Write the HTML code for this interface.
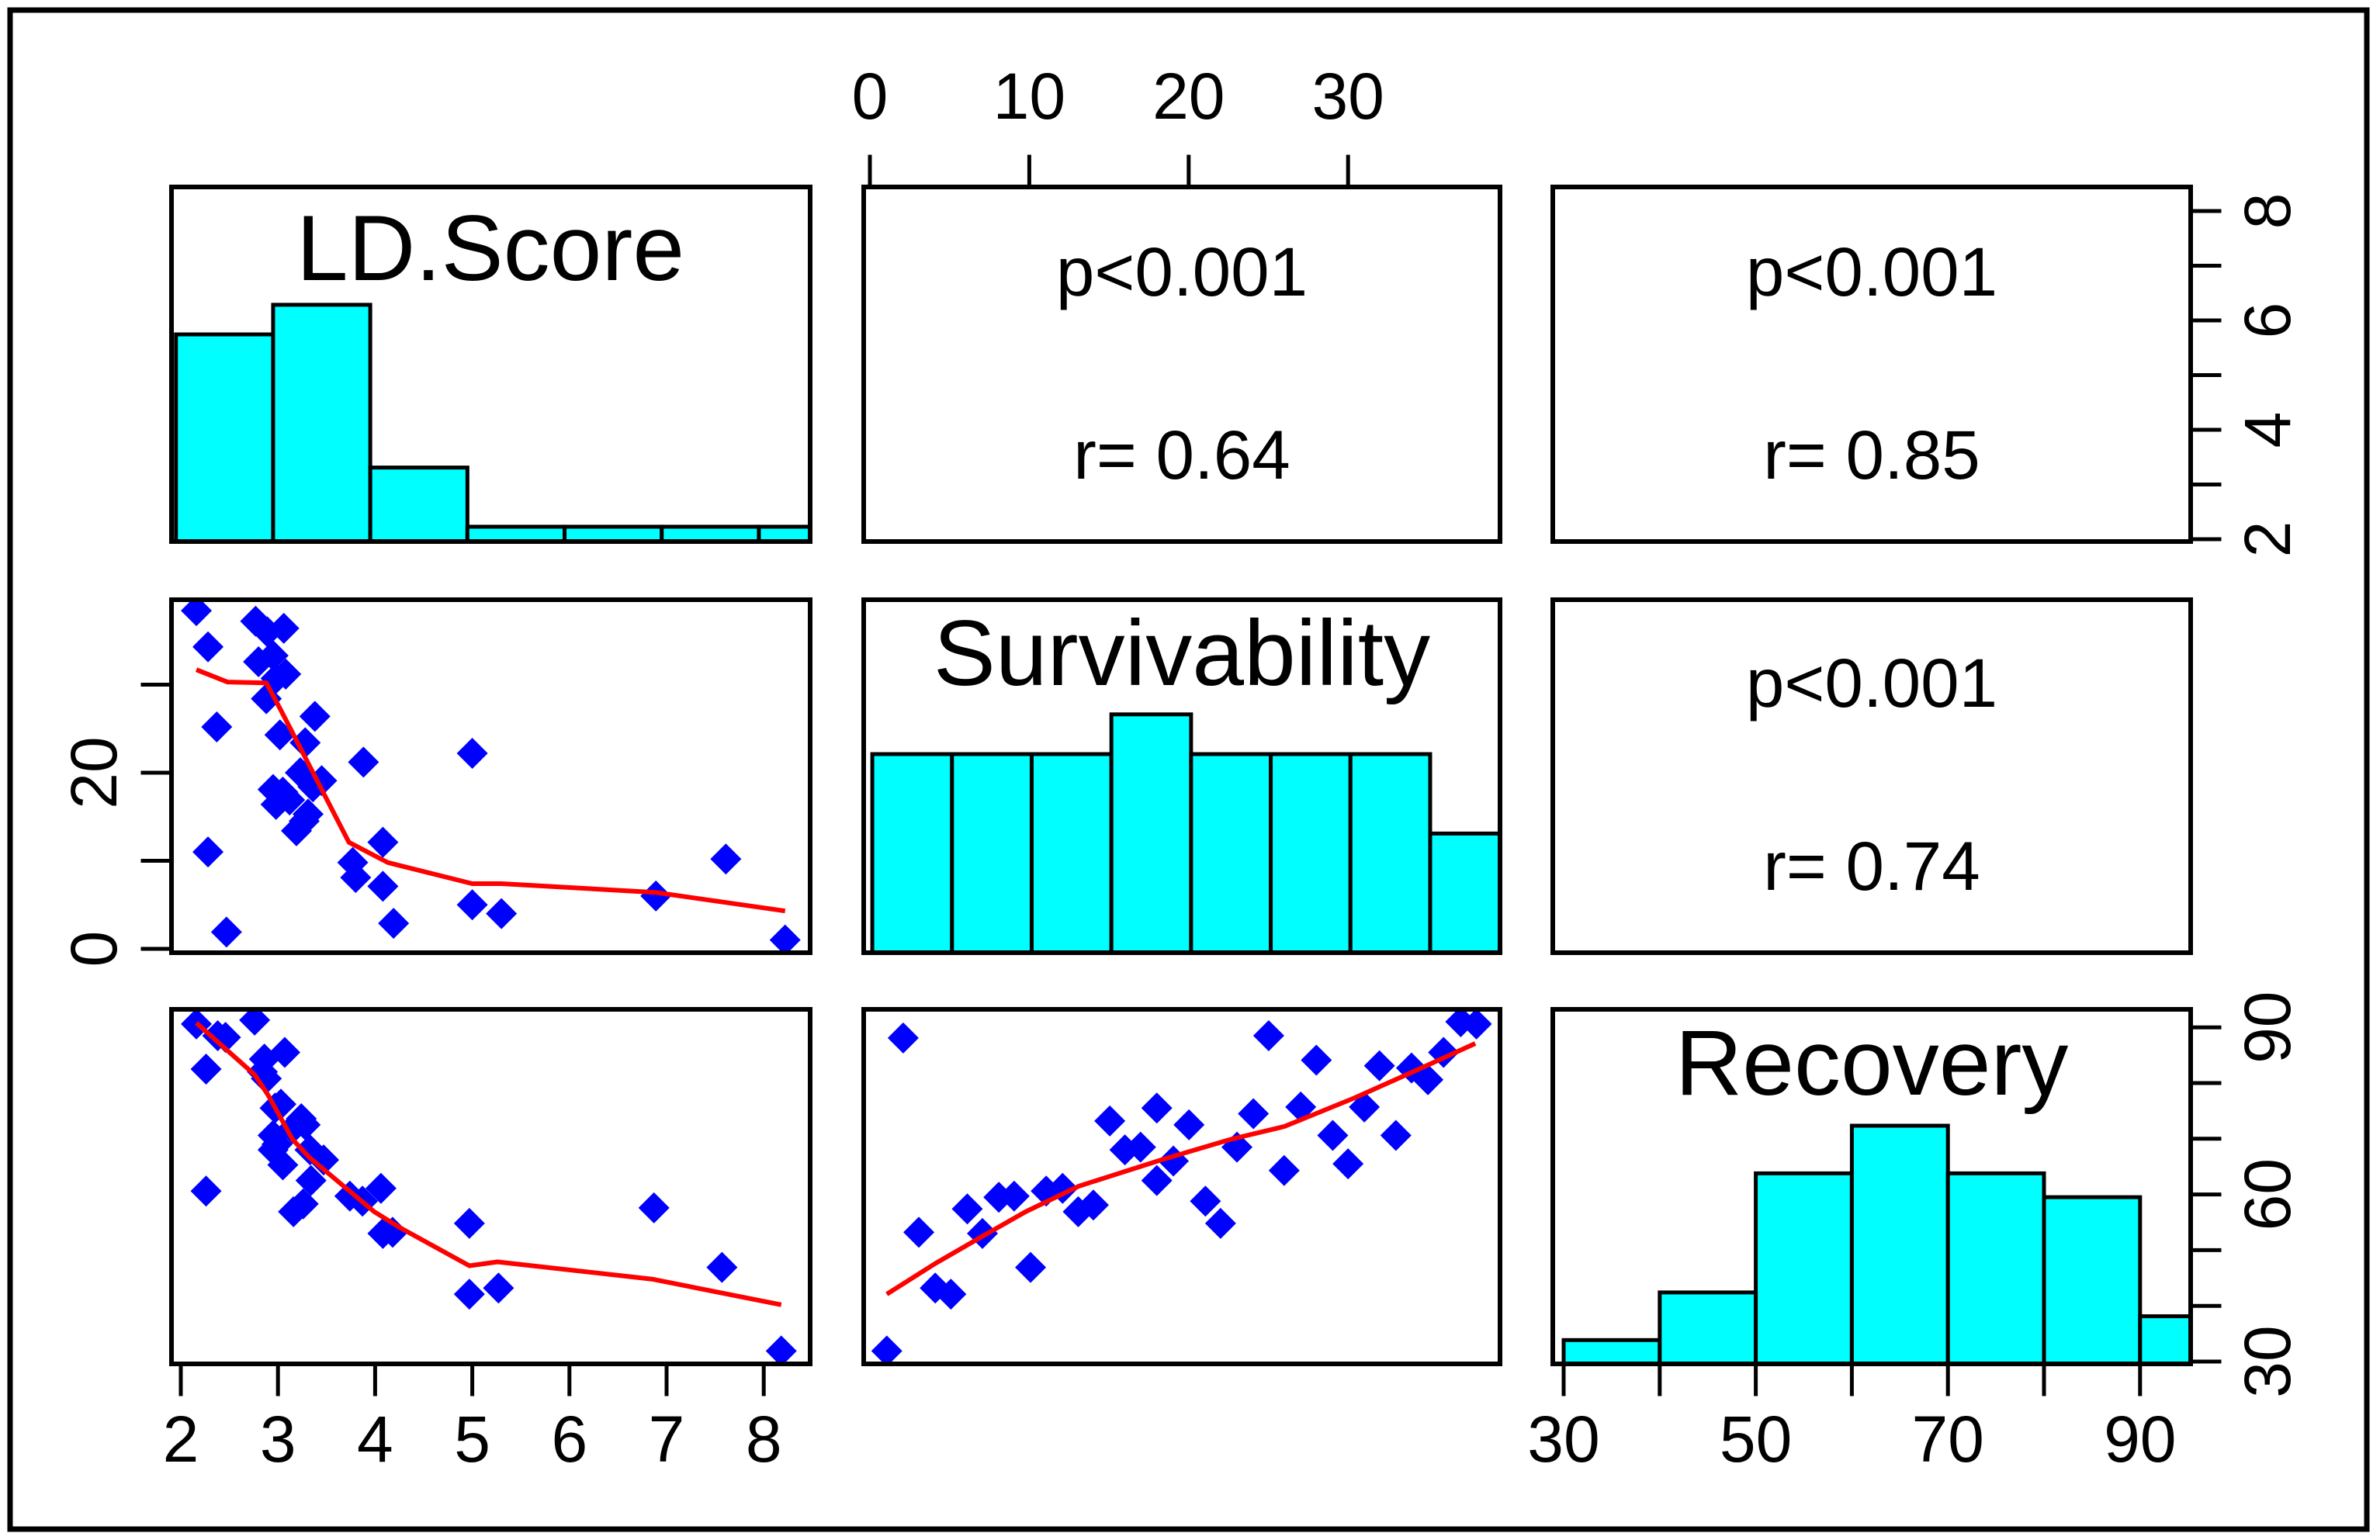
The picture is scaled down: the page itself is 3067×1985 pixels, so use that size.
<!DOCTYPE html>
<html><head><meta charset="utf-8">
<style>
html,body{margin:0;padding:0;background:#fff;}
svg{display:block;}
text{font-family:"Liberation Sans",Arial,sans-serif;fill:#000;}
</style></head>
<body>
<svg id="chart" width="3067" height="1985" viewBox="0 0 3067 1985" xmlns="http://www.w3.org/2000/svg">
<rect x="13" y="13" width="3037" height="1958" fill="#fff" stroke="#000" stroke-width="7"/>
<defs>
<clipPath id="c11"><rect x="221" y="241" width="823" height="457"/></clipPath>
<clipPath id="c22"><rect x="1113" y="773" width="820" height="455"/></clipPath>
<clipPath id="c33"><rect x="2001" y="1301" width="822" height="457"/></clipPath>
<clipPath id="c21"><rect x="221" y="773" width="823" height="455"/></clipPath>
<clipPath id="c31"><rect x="221" y="1301" width="823" height="457"/></clipPath>
<clipPath id="c32"><rect x="1113" y="1301" width="820" height="457"/></clipPath>
</defs>
<g id="marks"></g>
<g id="frames"></g>
</svg>
<script>
// ---- data ----
const ldBreaks = [1.95,2.95,3.95,4.95,5.95,6.95,7.95,8.95];
const ldCounts = [14,16,5,1,1,1,1];
const survBreaks = [0.15,5.15,10.15,15.15,20.15,25.15,30.15,35.15,40.15];
const survCounts = [5,5,5,6,5,5,5,3];
const recBreaks = [30,40,50,60,70,80,90,100];
const recCounts = [1,3,8,10,8,7,2];

const p21x = [2.16,2.28,2.37,2.28,2.47,2.77,2.89,3.06,2.8,2.95,2.98,3.08,2.88,3.02,2.95,3.05,2.98,3.12,3.19,3.27,3.31,3.23,3.28,3.38,3.36,3.45,3.88,3.77,3.8,4.08,4.08,4.19,5.0,5.0,5.3,6.89,7.61,8.22];
const p21y = [38.4,34.3,25.2,11,1.9,37.2,36,36.4,32.6,33.3,30.7,31.2,28.4,24.3,18.1,17.8,16.4,16.9,13.4,14.5,15.3,20,23.4,26.4,18.4,19.1,21.2,9.8,8.1,12.1,7.1,2.9,22.2,5,4,6,10.2,1];
const l21x = [2.16,2.48,2.88,3.03,3.73,4.13,5.0,5.3,6.89,8.22];
const l21y = [31.7,30.3,30.2,27.1,12.1,9.8,7.4,7.4,6.4,4.3];

const p31x = [2.16,2.38,2.46,2.76,2.26,2.26,3.07,2.86,2.84,2.88,3.03,2.97,3.24,3.28,3.15,2.95,2.99,3.05,2.95,3.33,3.47,3.34,3.16,3.26,3.74,3.87,4.06,4.08,4.18,4.97,4.97,5.27,6.87,7.57,8.18];
const p31y = [90.6,88.5,88.2,91.3,82.5,60.6,85.5,84.3,82,80.8,76.2,75.5,73.6,72.5,71.8,70.6,69,65.3,68,68,66.2,62.5,56.9,58.3,59.7,58.8,61.1,53,53.2,54.8,42.1,43.2,57.6,46.9,31.9];
const l31x = [2.16,2.76,2.90,3.15,3.32,3.99,4.25,4.97,5.26,6.85,8.18];
const l31y = [90.8,81.5,77.8,69.9,66.7,56.9,54.1,47.2,47.9,44.8,40.2];

const p32x = [1.06,2.09,3.07,4.1,5.08,6.11,7.06,8.09,9.05,10.08,11.06,12.09,13.07,14.02,15.05,16.0,16.98,18.0,18.0,19.04,20.02,21.05,22.0,23.03,24.06,25.02,25.99,27.03,28.01,29.04,30.0,31.02,31.97,33.0,33.98,35.01,35.99,37.07,38.05];
const p32y = [31.9,88.1,53.2,43.2,42.1,57.4,53,59.5,59.7,46.9,60.6,61.1,56.9,58.1,73.2,68,68.5,75.5,62.5,66,72.5,58.8,54.8,68.5,74.5,88.5,64.3,75.7,84.1,70.6,65.5,75.7,83.1,70.6,82.7,80.6,85.5,91,90.6];
const l32x = [1.06,4.1,7.19,9.77,13.12,18.27,22.65,26.0,30.38,33.98,37.98];
const l32y = [42.1,47.6,52.7,56.9,61.5,66.2,69.9,72.2,77.3,81.9,87.1];

const topTicks = [0,10,20,30];
const topLabels = ["0","10","20","30"];
const rightLdTicks = [2,3,4,5,6,7,8];
const rightLdLabels = ["2","4","6","8"];
const leftSurvTicks = [0,10,20,30];
const leftSurvLabels = ["0","20"];
const bottomLdTicks = [2,3,4,5,6,7,8];
const bottomLdLabels = ["2","3","4","5","6","7","8"];
const recTicks = [30,40,50,60,70,80,90];
const recLabelsX = ["30","50","70","90"];
const recLabelsY = ["30","60","90"];

// ---- scales ----
const ldX = v => 233 + (v-2)*125.2;
const ldY = v => 695 - (v-2)*70.5;
const survX = v => 1121 + v*20.54;
const survY = v => 1223 - v*11.35;
const recX = v => 2015 + (v-30)*12.38;
const recY = v => 1755 - (v-30)*7.18;

const NS = "http://www.w3.org/2000/svg";
const marks = document.getElementById('marks');
const frames = document.getElementById('frames');
function mk(tag, attrs, parent){
  const e = document.createElementNS(NS, tag);
  for (const k in attrs) e.setAttribute(k, attrs[k]);
  (parent||marks).appendChild(e);
  return e;
}
function group(clip, name){
  const g = mk('g', {'clip-path':'url(#'+clip+')'});
  
  
  return g;
}

function hist(breaks, counts, xf, base, perCount, clip, name){
  const g = group(clip, name);
  counts.forEach((c,i)=>{
    const x0 = xf(breaks[i]), x1 = xf(breaks[i+1]);
    const h = c*perCount;
    const r = mk('rect', {x:x0, y:base-h, width:x1-x0, height:h, fill:'#00FFFF', stroke:'#000', 'stroke-width':5}, g);
    
    
  });
}
hist(ldBreaks, ldCounts, ldX, 698, 19.07, 'c11', 'ld-score-histogram');
hist(survBreaks, survCounts, survX, 1228, 51.2, 'c22', 'survivability-histogram');
hist(recBreaks, recCounts, recX, 1758, 30.7, 'c33', 'recovery-histogram');

function scatter(xs, ys, lx, ly, xf, yf, clip, name){
  const g = group(clip, name);
  const r = 20;
  xs.forEach((v,i)=>{
    const cx = xf(v), cy = yf(ys[i]);
    const p = mk('polygon', {points:`${cx},${cy-r} ${cx+r},${cy} ${cx},${cy+r} ${cx-r},${cy}`, fill:'#0000FF'}, g);
    
    
  });
  const pts = lx.map((v,i)=>xf(v)+','+yf(ly[i])).join(' ');
  const l = mk('polyline', {points:pts, fill:'none', stroke:'#FF0000', 'stroke-width':6, 'stroke-linejoin':'round'}, g);
  
  
}
scatter(p21x, p21y, l21x, l21y, ldX, survY, 'c21', 'ld-vs-survivability-scatter');
scatter(p31x, p31y, l31x, l31y, ldX, recY, 'c31', 'ld-vs-recovery-scatter');
scatter(p32x, p32y, l32x, l32y, survX, recY, 'c32', 'survivability-vs-recovery-scatter');

const panels = [
 [221,241,823,457,'panel-ld-score'],[1113,241,820,457,'panel-p-ld-surv'],[2001,241,822,457,'panel-p-ld-rec'],
 [221,773,823,455,'panel-ld-surv'],[1113,773,820,455,'panel-survivability'],[2001,773,822,455,'panel-p-surv-rec'],
 [221,1301,823,457,'panel-ld-rec'],[1113,1301,820,457,'panel-surv-rec'],[2001,1301,822,457,'panel-recovery']];
panels.forEach(p=>{
  const r = mk('rect', {x:p[0], y:p[1], width:p[2], height:p[3], fill:'none', stroke:'#000', 'stroke-width':6}, frames);
  
  
});

function txt(x, y, s, size, rot, name){
  const t = mk('text', {x:x, y:y, 'font-size':size, 'text-anchor':'middle', 'dominant-baseline':'central'}, frames);
  if (rot) t.setAttribute('transform', `rotate(${rot} ${x} ${y})`);
  t.textContent = s;
  
  
  return t;
}
function line(x1,y1,x2,y2,name){
  const l = mk('line', {x1:x1,y1:y1,x2:x2,y2:y2,stroke:'#000','stroke-width':5,'stroke-linecap':'square'}, frames);
  
  
}

txt(632, 320, 'LD.Score', 120, 0, 'ld-score-title');
txt(1523, 842, 'Survivability', 120, 0, 'survivability-title');
txt(2412, 1370, 'Recovery', 120, 0, 'recovery-title');
txt(1523, 350, 'p<0.001', 89, 0, 'p-value-ld-surv');
txt(1523, 586, 'r= 0.64', 89, 0, 'r-value-ld-surv');
txt(2412, 350, 'p<0.001', 89, 0, 'p-value-ld-rec');
txt(2412, 586, 'r= 0.85', 89, 0, 'r-value-ld-rec');
txt(2412, 880, 'p<0.001', 89, 0, 'p-value-surv-rec');
txt(2412, 1116, 'r= 0.74', 89, 0, 'r-value-surv-rec');

topTicks.forEach(v=>line(survX(v),241,survX(v),202,'top-axis-tick'));
topLabels.forEach(s=>txt(survX(+s),124,s,84,0,'top-axis-label'));
rightLdTicks.forEach(v=>line(2823,ldY(v),2860,ldY(v),'right-axis-ld-tick'));
rightLdLabels.forEach(s=>txt(2922,ldY(+s),s,84,-90,'right-axis-ld-label'));
leftSurvTicks.forEach(v=>line(221,survY(v),184,survY(v),'left-axis-surv-tick'));
leftSurvLabels.forEach(s=>txt(121,survY(+s),s,84,-90,'left-axis-surv-label'));
line(ldX(2),1758,ldX(8),1758,'bottom-axis-ld-line');
bottomLdTicks.forEach(v=>line(ldX(v),1758,ldX(v),1797,'bottom-axis-ld-tick'));
bottomLdLabels.forEach(s=>txt(ldX(+s),1855,s,84,0,'bottom-axis-ld-label'));
line(recX(30),1758,recX(90),1758,'bottom-axis-rec-line');
recTicks.forEach(v=>line(recX(v),1758,recX(v),1797,'bottom-axis-rec-tick'));
recLabelsX.forEach(s=>txt(recX(+s),1855,s,84,0,'bottom-axis-rec-label'));
recTicks.forEach(v=>line(2823,recY(v),2860,recY(v),'right-axis-rec-tick'));
recLabelsY.forEach(s=>txt(2922,recY(+s),s,84,-90,'right-axis-rec-label'));
</script>
</body></html>
